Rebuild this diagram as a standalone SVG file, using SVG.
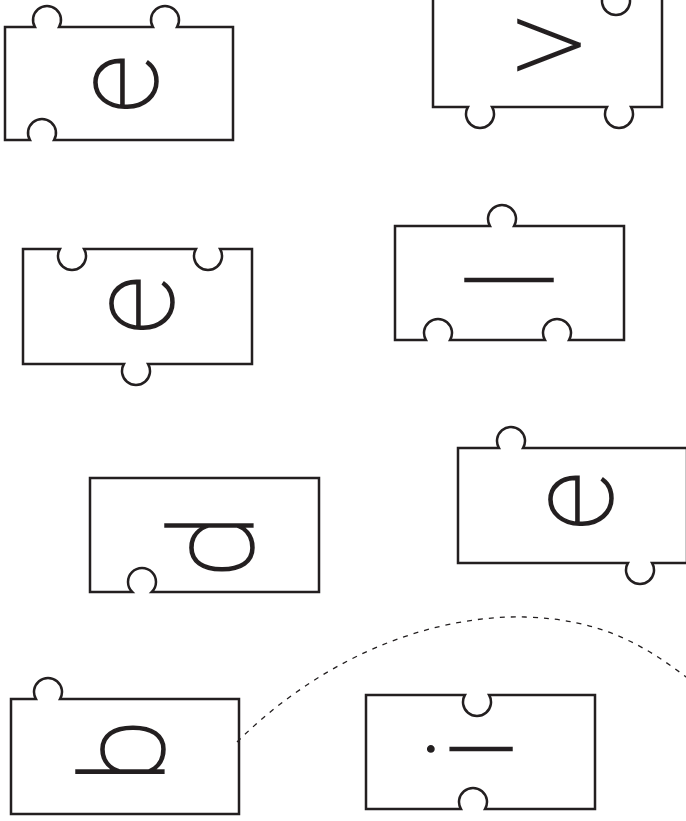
<svg xmlns="http://www.w3.org/2000/svg" width="686" height="821" viewBox="0 0 686 821">
<style>
.pc{fill:#fff;stroke:#231f20;stroke-width:2.5;stroke-linejoin:miter}
.lt{font-family:Roboto,"Liberation Sans",sans-serif;font-weight:100;font-size:116px;fill:#231f20;stroke:#231f20;stroke-width:1.5;text-anchor:middle}
.cn{fill:none;stroke:#231f20;stroke-width:1.3;stroke-dasharray:5 6}
</style>
<rect width="686" height="821" fill="#fff"/>
<g id="piece1">
<path class="pc" d="M5,27 L34.88,27 A14,14 0 1 1 59.12,27 L152.88,27 A14,14 0 1 1 177.12,27 L233,27 L233,140 L54.12,140 A14,14 0 1 0 29.88,140 L5,140 Z"/>
<text class="lt" transform="translate(157,84) rotate(-90)">e</text>
</g>
<g id="piece2">
<path class="pc" d="M433,-6 L603.88,-6 A14,14 0 1 0 628.12,-6 L662,-6 L662,107 L631.12,107 A14,14 0 1 1 606.88,107 L492.12,107 A14,14 0 1 1 467.88,107 L433,107 Z"/>
<text class="lt" transform="translate(580,45) rotate(-90)">v</text>
</g>
<g id="piece3">
<path class="pc" d="M23,249 L59.88,249 A14,14 0 1 0 84.12,249 L195.88,249 A14,14 0 1 0 220.12,249 L252,249 L252,364 L148.12,364 A14,14 0 1 1 123.88,364 L23,364 Z"/>
<text class="lt" transform="translate(173,305) rotate(-90)">e</text>
</g>
<g id="piece4">
<path class="pc" d="M395,226 L489.88,226 A14,14 0 1 1 514.12,226 L624,226 L624,340 L569.12,340 A14,14 0 1 0 544.88,340 L450.12,340 A14,14 0 1 0 425.88,340 L395,340 Z"/>
<text class="lt" transform="translate(553,280) rotate(-90)">l</text>
</g>
<g id="piece5">
<path class="pc" d="M90,478 L319,478 L319,592 L151.8,592 A14,14 0 1 0 132.2,592 L90,592 Z"/>
<text class="lt" transform="translate(253,546) rotate(-90)">d</text>
</g>
<g id="piece6">
<path class="pc" d="M458,448 L498.88,448 A14,14 0 1 1 523.12,448 L687,448 L687,563 L652.12,563 A14,14 0 1 1 627.88,563 L458,563 Z"/>
<text class="lt" transform="translate(612,501) rotate(-90)">e</text>
</g>
<g id="piece7">
<path class="pc" d="M11,699 L35.88,699 A14,14 0 1 1 60.12,699 L239,699 L239,814 L11,814 Z"/>
<text class="lt" transform="translate(164,751) rotate(-90)">b</text>
</g>
<g id="piece8">
<path class="pc" d="M366,695 L464.88,695 A14,14 0 1 0 489.12,695 L595,695 L595,809 L485.12,809 A14,14 0 1 0 460.88,809 L366,809 Z"/>
<text class="lt" transform="translate(512,749) rotate(-90)">i</text>
</g>
<g id="connectors">
<path class="cn" d="M237,742 C330,650 440,615 525,617 C600,619 645,645 690,680"/>
</g>
</svg>
